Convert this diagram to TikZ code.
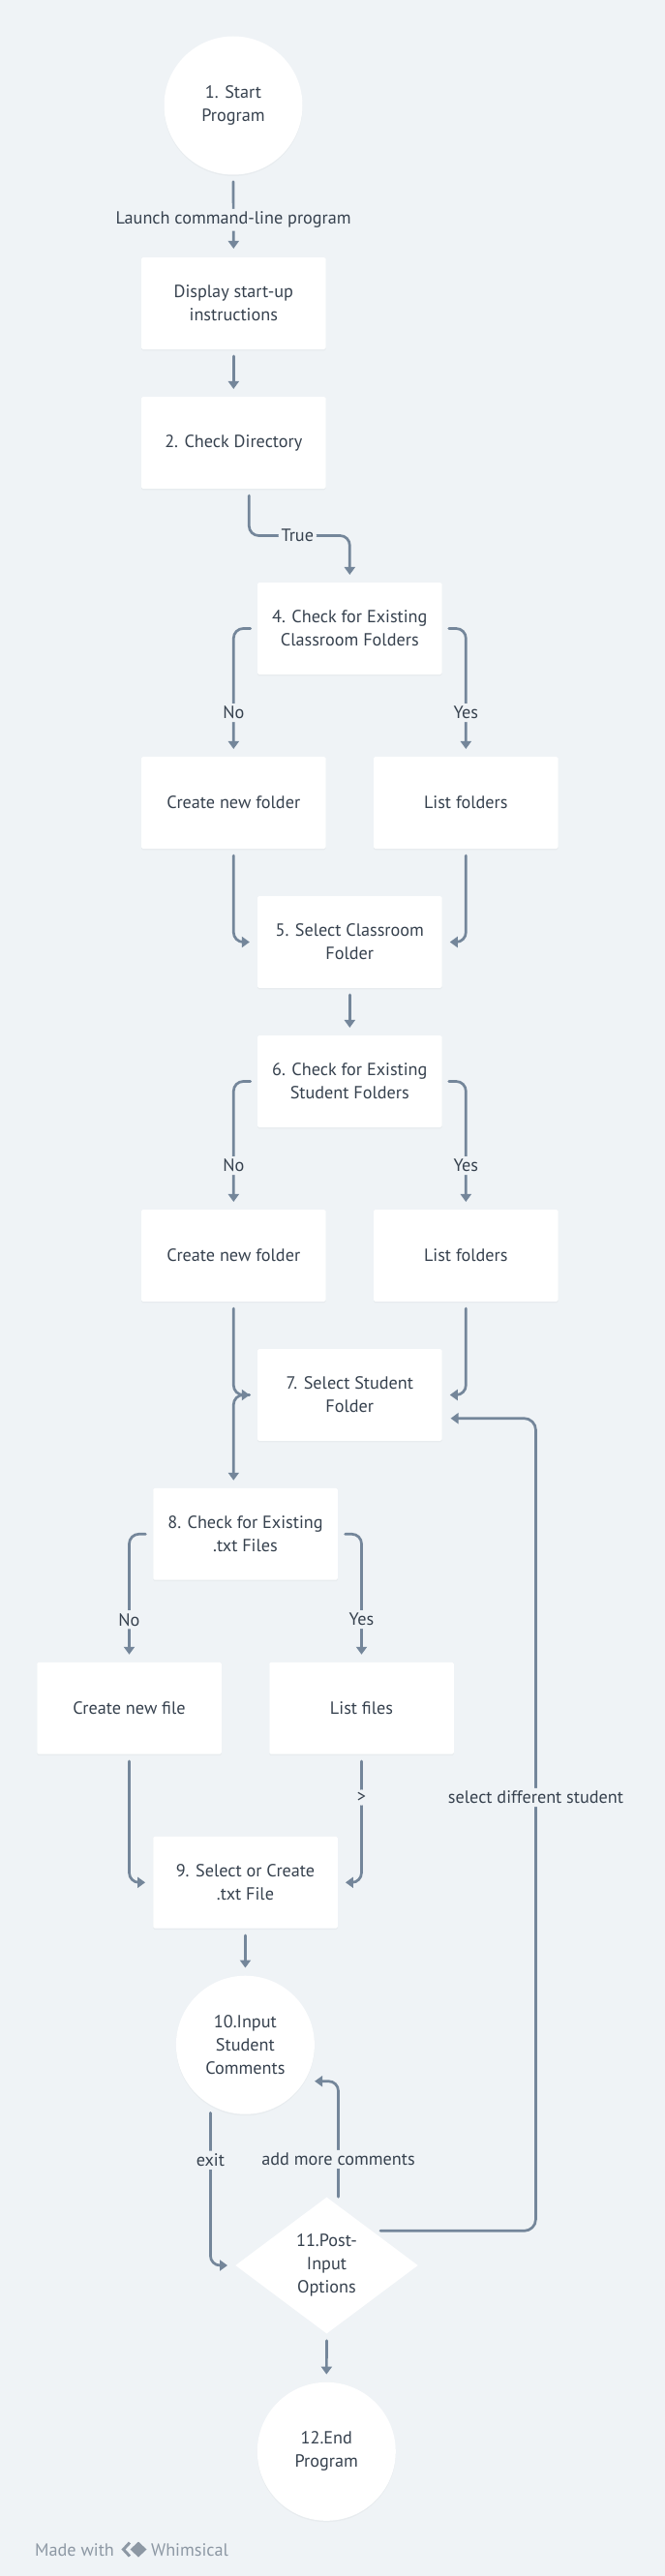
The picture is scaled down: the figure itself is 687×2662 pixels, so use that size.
\documentclass[tikz,border=0pt]{standalone}
\usepackage{fontspec}
\setmainfont{PT Sans}
\usetikzlibrary{arrows.meta,shapes.geometric,calc,shadows}
\definecolor{bg}{HTML}{EFF3F6}
\definecolor{ln}{HTML}{74869A}
\definecolor{tx}{HTML}{36414E}
\definecolor{ft}{HTML}{8D98A4}
\newcommand\myfs{\fontsize{18.2}{24}\selectfont}
\begin{document}
\begin{tikzpicture}[x=1pt,y=1pt,
  box/.style={rectangle, fill=white, minimum width=190.5pt, minimum height=94.7pt, inner sep=0pt, align=center, text=tx, rounded corners=1.5pt, font=\myfs, drop shadow={opacity=0.06, shadow xshift=0pt, shadow yshift=-1.5pt}},
  circ/.style={circle, fill=white, minimum size=143pt, inner sep=0pt, align=center, text=tx, font=\myfs, drop shadow={opacity=0.06, shadow xshift=0pt, shadow yshift=-1.5pt}},
  dia/.style={diamond, fill=white, minimum width=188.6pt, minimum height=141pt, inner sep=0pt, align=center, text=tx, font=\myfs},
  conn/.style={draw=ln, line width=2.7pt, line cap=round, rounded corners=10pt, -{Triangle[width=11pt,length=8pt]}},
  lbl/.style={fill=bg, text=tx, font=\myfs, inner sep=3pt}]
\fill[bg] (0,0) rectangle (687,-2662);
\useasboundingbox (0,0) rectangle (687,-2662);
% nodes
\node[circ] (start) at (241,-109) {1. Start\\Program};
\node[box] (disp) at (241.3,-313.5) {Display start-up\\instructions};
\node[box] (cdir) at (241.3,-457.5) {2. Check Directory};
\node[box] (c4) at (361.3,-649.5) {4. Check for Existing\\Classroom Folders};
\node[box] (nf1) at (241.3,-829.5) {Create new folder};
\node[box] (lf1) at (481.3,-829.5) {List folders};
\node[box] (c5) at (361.3,-973.5) {5. Select Classroom\\Folder};
\node[box] (c6) at (361.3,-1117.5) {6. Check for Existing\\Student Folders};
\node[box] (nf2) at (241.3,-1297.5) {Create new folder};
\node[box] (lf2) at (481.3,-1297.5) {List folders};
\node[box] (c7) at (361.3,-1441.5) {7. Select Student\\Folder};
\node[box] (c8) at (253.5,-1585.3) {8. Check for Existing\\.txt Files};
\node[box] (nfile) at (133.5,-1765.3) {Create new file};
\node[box] (lfile) at (373.5,-1765.3) {List files};
\node[box] (c9) at (253.5,-1945.3) {9. Select or Create\\.txt File};
\node[circ] (c10) at (253.4,-2113.2) {10.Input\\Student\\Comments};
\node[dia] (c11) at (337.5,-2341) {11.Post-\\Input\\Options};
\node[circ] (c12) at (337.3,-2533.3) {12.End\\Program};
% connectors
\draw[conn] ([yshift=-7pt]start.south) -- node[lbl,pos=0.57]{Launch command-line program} ([yshift=9pt]disp.north);
\draw[conn] ([yshift=-7pt]disp.south) -- ([yshift=8pt]cdir.north);
\draw[conn] ([xshift=16pt,yshift=-7pt]cdir.south) |- ($(cdir.south)!0.5!(c4.north)+(6,0)$) node[lbl]{True} -| ([yshift=8pt]c4.north);
\draw[conn] ([xshift=-7pt]c4.west) -| node[lbl,pos=0.85]{No} ([yshift=8pt]nf1.north);
\draw[conn] ([xshift=7pt]c4.east) -| node[lbl,pos=0.85]{Yes} ([yshift=8pt]lf1.north);
\draw[conn] ([yshift=-7pt]nf1.south) |- ([xshift=-8pt]c5.west);
\draw[conn] ([yshift=-7pt]lf1.south) |- ([xshift=8pt]c5.east);
\draw[conn] ([yshift=-7pt]c5.south) -- ([yshift=8pt]c6.north);
\draw[conn] ([xshift=-7pt]c6.west) -| node[lbl,pos=0.85]{No} ([yshift=8pt]nf2.north);
\draw[conn] ([xshift=7pt]c6.east) -| node[lbl,pos=0.85]{Yes} ([yshift=8pt]lf2.north);
\draw[conn] ([yshift=-7pt]nf2.south) |- ([xshift=-8pt]c7.west);
\draw[conn] ([yshift=-7pt]lf2.south) |- ([xshift=8pt]c7.east);
\draw[conn] ([xshift=-8pt]c7.west) -| ($(c8.north -| nf2.south)+(0,8)$);
\draw[conn] ([xshift=-7.7pt]c8.west) -| node[lbl,pos=0.855]{No} ([yshift=8pt]nfile.north);
\draw[conn] ([xshift=7.7pt]c8.east) -| node[lbl,pos=0.855]{Yes} ([yshift=8pt]lfile.north);
\draw[conn] ([yshift=-7pt]nfile.south) |- ([xshift=-8pt]c9.west);
\draw[conn] ([yshift=-7pt]lfile.south) |- node[lbl,pos=0.15]{>} ([xshift=8pt]c9.east);
\draw[conn] ([yshift=-7pt]c9.south) -- ([yshift=8pt]c10.north);
\draw[conn] ([xshift=-36pt,yshift=1.5pt]c10.south) |- node[lbl,pos=0.155]{exit} ([xshift=-8pt]c11.west);
\draw[conn] ([xshift=12pt]c11.north) |- node[lbl,pos=0.1625]{add more comments} ([yshift=-37.5pt]c10.east);
\coordinate (ls) at (553.5,-1857.5);
\draw[conn,rounded corners=12pt] ($(c11.center)+(55.5,35.7)$) -| (ls) node[lbl]{select different student} |- ([xshift=8.8pt,yshift=-24.2pt]c7.east);
\draw[conn] ([yshift=-7pt]c11.south) -- ([yshift=8pt]c12.north);
% footer
\node[anchor=base west, text=ft, font=\myfs, inner sep=0pt] (made) at (36,-2641) {Made with};
\fill[ft] (143,-2626.5) -- (151.5,-2634.5) -- (143,-2642.5) -- (134.5,-2634.5) -- cycle;
\draw[ft, line width=3pt, line join=miter] (134,-2627.5) -- (127.5,-2634.5) -- (134,-2641.5);
\node[anchor=base west, text=ft, font=\myfs, inner sep=0pt] (wh) at (156,-2641) {Whimsical};
\end{tikzpicture}
\end{document}
